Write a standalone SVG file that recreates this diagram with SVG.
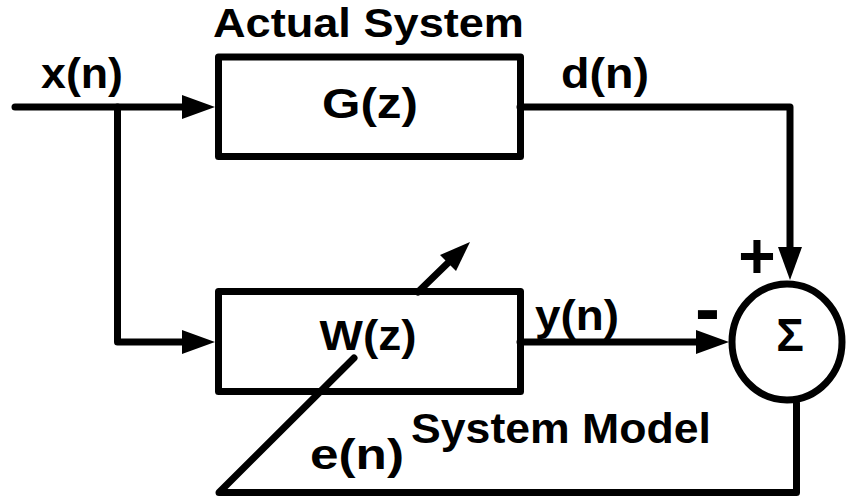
<svg xmlns="http://www.w3.org/2000/svg" width="847" height="498" viewBox="0 0 847 498">
<style>
.ln{fill:none;stroke:#000;stroke-width:7;stroke-linecap:round;stroke-linejoin:round}
.bx{fill:none;stroke:#000;stroke-width:7;stroke-linejoin:round}
.t{font-family:"Liberation Sans",Arial,sans-serif;font-weight:bold;font-size:43px;fill:#000;text-anchor:middle}
.ah{fill:#000;stroke:none}
</style>
<rect width="847" height="498" fill="#fff"/>
<g id="actual-system">
  <rect class="bx" x="218.5" y="57" width="302" height="99.5"/>
  <text class="t" x="370" y="118" textLength="96" lengthAdjust="spacingAndGlyphs">G(z)</text>
  <text class="t" x="368.5" y="37" style="font-size:40px" textLength="311" lengthAdjust="spacingAndGlyphs">Actual System</text>
</g>
<g id="system-model">
  <rect class="bx" x="218.5" y="291.5" width="302" height="100"/>
  <text class="t" x="368" y="350" textLength="97" lengthAdjust="spacingAndGlyphs">W(z)</text>
  <text class="t" x="561" y="443" textLength="300" lengthAdjust="spacingAndGlyphs">System Model</text>
</g>
<g id="sum">
  <ellipse cx="787" cy="342" rx="55" ry="58" fill="#fff" stroke="#000" stroke-width="7"/>
  <text class="t" x="790" y="351" style="font-size:46px">Σ</text>
</g>
<g id="connectors">
  <path class="ln" d="M15 107 H184"/>
  <path class="ln" d="M117.5 107 V342 H184"/>
  <path class="ln" d="M520 107 H790 V249"/>
  <path class="ln" d="M520 342 H699"/>
  <path class="ln" d="M796.5 403 V492.5 H219 L354 358"/>
  <path class="ln" d="M418 292 L452 259"/>
  <polygon class="ah" points="215,107 182,95 182,119"/>
  <polygon class="ah" points="215,342 182,330 182,354"/>
  <polygon class="ah" points="790,280 778,247 802,247"/>
  <polygon class="ah" points="729,342 696,330 696,354"/>
  <polygon class="ah" points="470,242 440,255 456,271"/>
</g>
<g id="labels">
  <text class="t" x="82" y="88" textLength="82" lengthAdjust="spacingAndGlyphs">x(n)</text>
  <text class="t" x="605" y="88" textLength="88" lengthAdjust="spacingAndGlyphs">d(n)</text>
  <text class="t" x="577" y="330" textLength="84" lengthAdjust="spacingAndGlyphs">y(n)</text>
  <text class="t" x="357" y="469" textLength="94" lengthAdjust="spacingAndGlyphs">e(n)</text>
  <text class="t" x="757" y="278" style="font-size:64px">+</text>
  <text class="t" x="707.5" y="334" style="font-size:75px">-</text>
</g>
</svg>
